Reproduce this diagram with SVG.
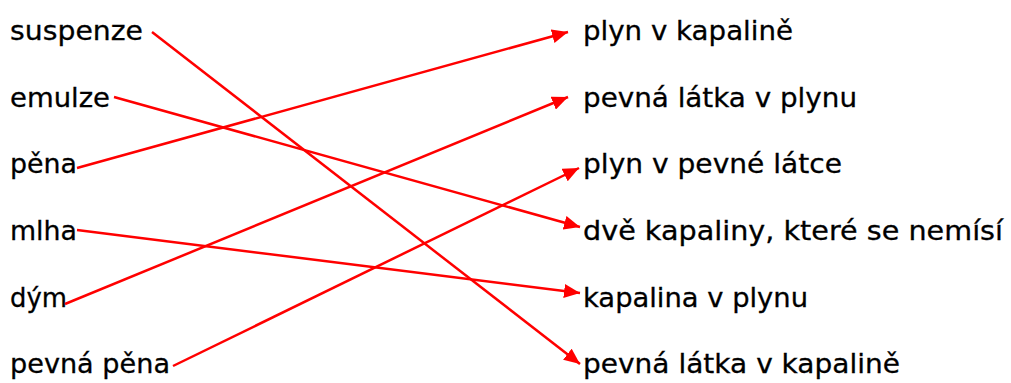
<svg xmlns="http://www.w3.org/2000/svg" width="1011" height="383" viewBox="0 0 1011 383">
<style>
text{font-family:"DejaVu Sans","Liberation Sans",sans-serif;font-size:27px;fill:#000;stroke:#000;stroke-width:0.3}
.c line{stroke:#ff0000;stroke-width:2.5;fill:none}
</style>
<defs>
<marker id="ah" markerUnits="userSpaceOnUse" markerWidth="18" markerHeight="14" refX="16" refY="7" orient="auto">
<path d="M0,0 L16,7 L0,14 Z" fill="#ff0000"/>
</marker>
</defs>
<rect width="1011" height="383" fill="#fff"/>
<g id="l1"><text x="10" y="40" textLength="133" lengthAdjust="spacingAndGlyphs">suspenze</text></g>
<g id="l2"><text x="10" y="107" textLength="100" lengthAdjust="spacingAndGlyphs">emulze</text></g>
<g id="l3"><text x="10" y="173" textLength="67" lengthAdjust="spacingAndGlyphs">pěna</text></g>
<g id="l4"><text x="10" y="240" textLength="67" lengthAdjust="spacingAndGlyphs">mlha</text></g>
<g id="l5"><text x="10" y="307" textLength="57" lengthAdjust="spacingAndGlyphs">dým</text></g>
<g id="l6"><text x="10" y="373" textLength="160" lengthAdjust="spacingAndGlyphs">pevná pěna</text></g>
<g id="r1"><text x="583" y="40" textLength="210" lengthAdjust="spacingAndGlyphs">plyn v kapalině</text></g>
<g id="r2"><text x="583" y="107" textLength="274" lengthAdjust="spacingAndGlyphs">pevná látka v plynu</text></g>
<g id="r3"><text x="583" y="173" textLength="259" lengthAdjust="spacingAndGlyphs">plyn v pevné látce</text></g>
<g id="r4"><text x="583" y="240" textLength="420" lengthAdjust="spacingAndGlyphs">dvě kapaliny, které se nemísí</text></g>
<g id="r5"><text x="583" y="307" textLength="225" lengthAdjust="spacingAndGlyphs">kapalina v plynu</text></g>
<g id="r6"><text x="583" y="373" textLength="317" lengthAdjust="spacingAndGlyphs">pevná látka v kapalině</text></g>
<g id="connectors" class="c">
<line x1="152" y1="32" x2="580" y2="364" marker-end="url(#ah)"/>
<line x1="114" y1="97" x2="580" y2="227" marker-end="url(#ah)"/>
<line x1="77" y1="168" x2="568" y2="32" marker-end="url(#ah)"/>
<line x1="77" y1="230" x2="580" y2="293" marker-end="url(#ah)"/>
<line x1="65" y1="304" x2="568" y2="97" marker-end="url(#ah)"/>
<line x1="173" y1="366" x2="579" y2="168" marker-end="url(#ah)"/>
</g>
</svg>
